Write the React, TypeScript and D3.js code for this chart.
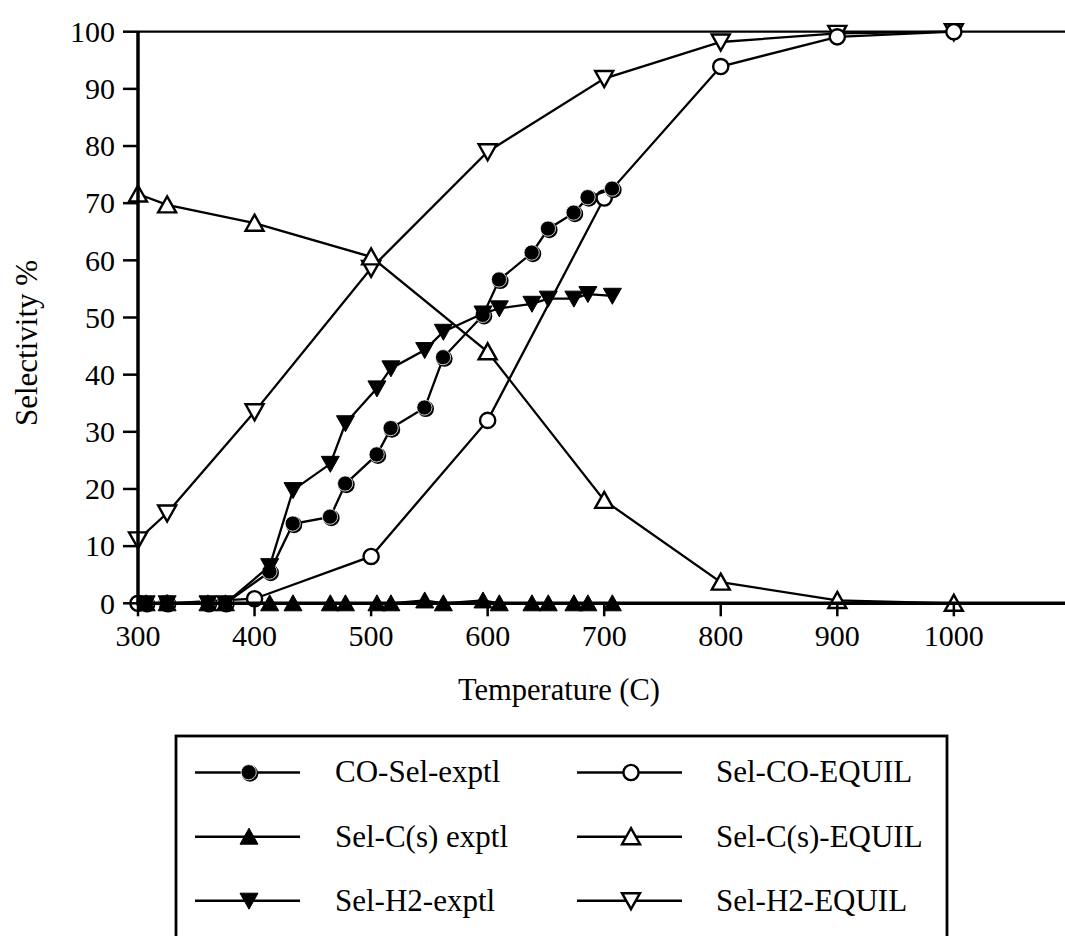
import React from "react";
import * as d3 from "d3";

const expTemps = [307, 325, 360, 375, 413, 433, 465, 478, 505, 517, 546, 562, 596, 610, 638, 652, 674, 686, 707];
const coSelExptl = [0, 0, 0, 0, 5.5, 13.9, 15.1, 20.9, 26, 30.6, 34.2, 43, 50.4, 56.6, 61.3, 65.5, 68.3, 71, 72.5];
const csSelExptl = [0, 0, 0, 0, 0, 0, 0, 0, 0, 0, 0.5, 0, 0.5, 0, 0, 0, 0, 0, 0];
const h2SelExptl = [0, 0, 0, 0, 6.5, 19.8, 24.4, 31.5, 37.6, 41.1, 44.3, 47.5, 50.7, 51.6, 52.4, 53.3, 53.3, 54.1, 53.8];

const eqTemps = [300, 325, 400, 500, 600, 700, 800, 900, 1000];
const coSelEquil = [0, 0, 0.8, 8.2, 32, 70.9, 93.9, 99.1, 100];
const csSelEquil = [71.6, 69.7, 66.5, 60.6, 44, 18, 3.7, 0.5, 0];
const h2SelEquil = [11.1, 15.8, 33.5, 58.6, 79, 91.8, 98.2, 99.7, 100];

const xTicks = [300, 400, 500, 600, 700, 800, 900, 1000];
const yTicks = [0, 10, 20, 30, 40, 50, 60, 70, 80, 90, 100];

type Marker = "filledCircle" | "openCircle" | "filledUp" | "openUp" | "filledDown" | "openDown";

const FONT = "'Liberation Serif', 'Times New Roman', serif";

function MarkerShape({ kind, x, y }: { kind: Marker; x: number; y: number }) {
  const up = `M${x},${y - 8.5}L${x + 9},${y + 7.5}L${x - 9},${y + 7.5}Z`;
  const down = `M${x},${y + 8.5}L${x + 9},${y - 7.5}L${x - 9},${y - 7.5}Z`;
  switch (kind) {
    case "filledCircle":
      return (
        <g>
          <circle cx={x + 1} cy={y + 1} r={8.3} fill="#000" />
          <circle cx={x - 0.3} cy={y - 0.3} r={7.6} fill="#000" stroke="#fff" strokeWidth={0.8} />
        </g>
      );
    case "openCircle":
      return <circle cx={x} cy={y} r={7.6} fill="#fff" stroke="#000" strokeWidth={2.4} />;
    case "filledUp":
      return <path d={up} fill="#000" stroke="#000" strokeWidth={1} />;
    case "openUp":
      return <path d={up} fill="#fff" stroke="#000" strokeWidth={2.4} strokeLinejoin="miter" />;
    case "filledDown":
      return <path d={down} fill="#000" stroke="#000" strokeWidth={1} />;
    case "openDown":
      return <path d={down} fill="#fff" stroke="#000" strokeWidth={2.4} strokeLinejoin="miter" />;
  }
  return null;
}

export default function App() {
  const W = 1065;
  const H = 936;
  const x = d3.scaleLinear().domain([300, 1100]).range([138, 138 + 800 * 1.1655]);
  const y = d3.scaleLinear().domain([0, 100]).range([603.3, 31.7]);

  const series: { name: string; temps: number[]; vals: number[]; marker: Marker }[] = [
    { name: "Sel-H2-EQUIL", temps: eqTemps, vals: h2SelEquil, marker: "openDown" },
    { name: "Sel-CO-EQUIL", temps: eqTemps, vals: coSelEquil, marker: "openCircle" },
    { name: "Sel-C(s)-EQUIL", temps: eqTemps, vals: csSelEquil, marker: "openUp" },
    { name: "CO-Sel-exptl", temps: expTemps, vals: coSelExptl, marker: "filledCircle" },
    { name: "Sel-C(s) exptl", temps: expTemps, vals: csSelExptl, marker: "filledUp" },
    { name: "Sel-H2-exptl", temps: expTemps, vals: h2SelExptl, marker: "filledDown" },
  ];

  const line = d3
    .line<[number, number]>()
    .x((d) => x(d[0]))
    .y((d) => y(d[1]));

  const legendItems: { name: string; marker: Marker; col: number; row: number }[] = [
    { name: "CO-Sel-exptl", marker: "filledCircle", col: 0, row: 0 },
    { name: "Sel-C(s) exptl", marker: "filledUp", col: 0, row: 1 },
    { name: "Sel-H2-exptl", marker: "filledDown", col: 0, row: 2 },
    { name: "Sel-CO-EQUIL", marker: "openCircle", col: 1, row: 0 },
    { name: "Sel-C(s)-EQUIL", marker: "openUp", col: 1, row: 1 },
    { name: "Sel-H2-EQUIL", marker: "openDown", col: 1, row: 2 },
  ];
  const colLineX = [195, 577];
  const colTextX = [335, 716];
  const rowY = [772.5, 836.7, 900.7];

  return (
    <svg
      width={W}
      height={H}
      style={{ position: "absolute", left: 0, top: 0, background: "#fff" }}
      fontFamily={FONT}
    >
      <rect x={0} y={0} width={W} height={H} fill="#fff" />
      {/* top line at 100 */}
      <line x1={x(300)} x2={W + 10} y1={y(100)} y2={y(100)} stroke="#000" strokeWidth={2.2} />

      {/* series */}
      {series.map((s) => {
        const pts: [number, number][] = s.temps.map((t, i) => [t, s.vals[i]]);
        return (
          <g key={s.name}>
            <path d={line(pts) || ""} fill="none" stroke="#000" strokeWidth={2.3} />
            {pts.map((p, i) => (
              <MarkerShape key={i} kind={s.marker} x={x(p[0])} y={y(p[1])} />
            ))}
          </g>
        );
      })}

      {/* y axis */}
      <line x1={x(300)} x2={x(300)} y1={y(100)} y2={y(0) + 2} stroke="#000" strokeWidth={3.5} />
      {yTicks.map((t) => (
        <g key={t}>
          <line x1={x(300) - 15} x2={x(300)} y1={y(t)} y2={y(t)} stroke="#000" strokeWidth={2.5} />
          <text x={115} y={y(t)} dy="0.34em" textAnchor="end" fontSize={30} fill="#000">
            {t}
          </text>
        </g>
      ))}
      {/* x axis */}
      <line x1={x(300) - 2} x2={W + 10} y1={y(0)} y2={y(0)} stroke="#000" strokeWidth={3.5} />
      {xTicks.map((t) => (
        <g key={t}>
          <line x1={x(t)} x2={x(t)} y1={y(0)} y2={y(0) + 13} stroke="#000" strokeWidth={2.5} />
          <text x={x(t)} y={646} textAnchor="middle" fontSize={30} fill="#000">
            {t}
          </text>
        </g>
      ))}

      <text x={559} y={700} textAnchor="middle" fontSize={30.5} fill="#000">
        Temperature (C)
      </text>
      <text
        transform={`translate(37,343) rotate(-90)`}
        textAnchor="middle"
        fontSize={31}
        fill="#000"
      >
        Selectivity %
      </text>

      {/* legend */}
      <rect x={176} y={736} width={771} height={260} fill="none" stroke="#000" strokeWidth={2.8} />
      {legendItems.map((it) => {
        const lx = colLineX[it.col];
        const ly = rowY[it.row];
        return (
          <g key={it.name}>
            <line x1={lx} x2={lx + 105} y1={ly} y2={ly} stroke="#000" strokeWidth={2.6} />
            <MarkerShape kind={it.marker} x={lx + 54} y={ly} />
            <text x={colTextX[it.col]} y={ly} dy="0.32em" fontSize={31} fill="#000">
              {it.name}
            </text>
          </g>
        );
      })}
    </svg>
  );
}
